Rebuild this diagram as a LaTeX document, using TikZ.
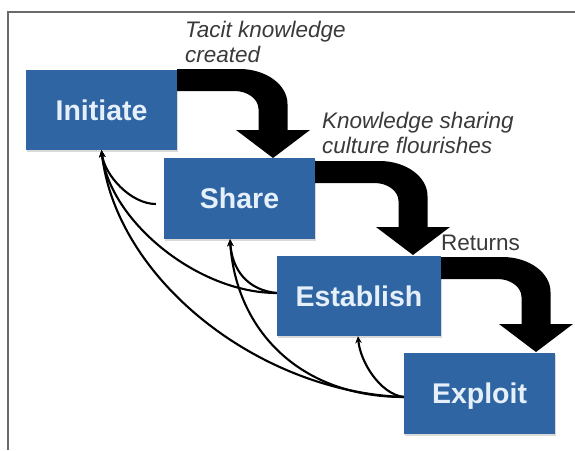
\documentclass[tikz,border=0pt]{standalone}
\usepackage{fontspec}
\newfontfamily\arialf{Liberation Sans}
\usetikzlibrary{arrows.meta,calc,shadows}
\definecolor{boxblue}{HTML}{2E65A2}
\definecolor{boxtext}{HTML}{E6F0FB}
\definecolor{labelgray}{HTML}{3A3A3A}
\definecolor{framegray}{HTML}{6A6A6A}
\begin{document}
\begin{tikzpicture}[x=1pt,y=-1pt,
  stage/.style={fill=boxblue, text=boxtext, font=\arialf\bfseries\fontsize{28.5}{30}\selectfont,
    inner sep=0pt, text height=20pt, text depth=0pt, minimum height=80pt,
    drop shadow={shadow xshift=1pt, shadow yshift=-2pt, fill=black, opacity=0.15}},
  lbl/.style={font=\arialf\itshape\fontsize{22.5}{25}\selectfont, text=labelgray, align=left,
    inner sep=0pt, anchor=north west},
  fb/.style={-{Stealth[length=7pt,width=6.5pt]}, line width=2.1pt, black},
  bent/.style={fill=black}]
\useasboundingbox (0,0) rectangle (575,450);
\fill[white] (0,0) rectangle (575,450);
\draw[framegray, line width=2pt] (8,450) -- (8,12) -- (575,12);

% stages
\node[stage, minimum width=151pt] (ini) at (101.5,110) {Initiate};
\node[stage, minimum width=151pt, minimum height=81pt] (sha) at (239.5,198.5) {Share};
\node[stage, minimum width=164pt] (est) at (359,296) {Establish};
\node[stage, minimum width=151pt, minimum height=81pt] (exl) at (479.5,393.5) {Exploit};

% labels
\node[lbl] (t1) at (185,20.6) {Tacit knowledge\\created};
\node[lbl] (t2) at (322,111.6) {Knowledge sharing\\culture flourishes};
\node[font=\arialf\fontsize{22.5}{25}\selectfont, text=labelgray, anchor=base west, inner sep=0pt] (t3) at (441,250) {Returns};

% bent arrows
\fill[bent] (177,69) -- (239.5,69) .. controls (266,69) and (287.5,84.7) .. (287.5,104)
  -- (287.5,130) -- (310,130) -- (273,158) -- (236,130) -- (258.5,130) -- (258.5,109)
  .. controls (258.5,99.1) and (247.7,91) .. (234.5,91) -- (177,91) -- cycle;
\fill[bent] (315,161) -- (379.5,161) .. controls (406,161) and (427.5,176.7) .. (427.5,196)
  -- (427.5,227) -- (450,227) -- (413,255) -- (376,227) -- (398.5,227) -- (398.5,201)
  .. controls (398.5,191.1) and (387.7,183) .. (374.5,183) -- (315,183) -- cycle;
\fill[bent] (441,257) -- (502.5,257) .. controls (529,257) and (550.5,272.7) .. (550.5,292)
  -- (550.5,324) -- (573,324) -- (536,352) -- (499,324) -- (521.5,324) -- (521.5,297)
  .. controls (521.5,287.1) and (510.7,279) .. (497.5,279) -- (441,279) -- cycle;

% feedback connectors
\coordinate (sh0) at ($(sha.west)+(-8,5.5)$);
\coordinate (es0) at ($(est.west)+(0,-3)$);
\coordinate (ex0) at ($(exl.west)+(0,3.5)$);
\coordinate (shb) at ($(sha.south)+(-9.5,0)$);
\coordinate (esb) at ($(est.south)+(-1,0)$);
\draw[fb] (sh0) .. controls +(-25,0) and +(3,25) .. (ini.south);
\draw[fb] (es0) .. controls +(-80,0) and +(8,70) .. (ini.south);
\draw[fb] (ex0) .. controls +(-144,-5) and +(15,130) .. (ini.south);
\draw[fb] (es0) .. controls +(-30,-3) and +(2,30) .. (shb);
\draw[fb] (ex0) .. controls +(-104,0) and +(6,91) .. (shb);
\draw[fb] (ex0) .. controls +(-24,-3) and +(2,25) .. (esb);
\end{tikzpicture}
\end{document}
